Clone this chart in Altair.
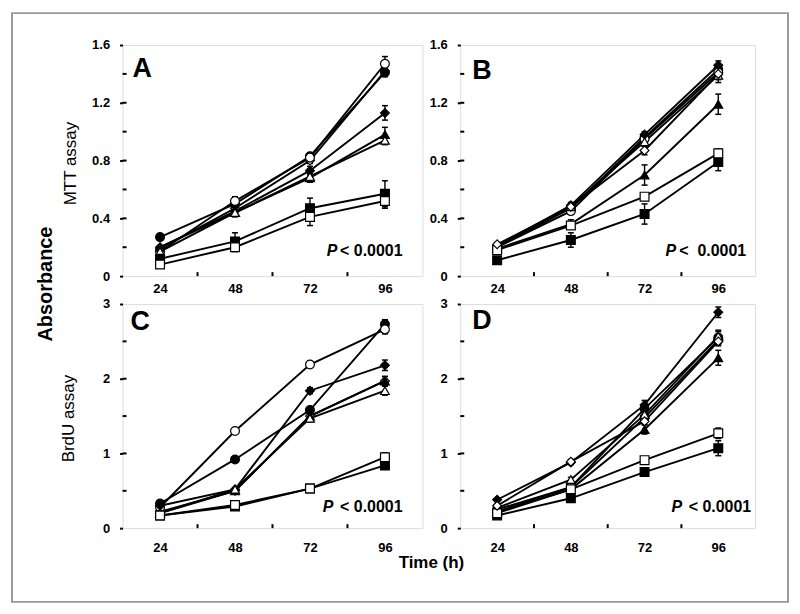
import altair as alt
import pandas as pd

TIMES = [24, 48, 72, 96]
X_MINOR = [36, 60, 84]

# series: name -> (shape, fill)
SERIES = ["open diamond", "filled circle", "open circle", "filled diamond",
          "filled triangle", "open triangle", "filled square", "open square"]
SHAPE_OF = {"circle": "circle", "diamond": "diamond", "triangle": "triangle-up", "square": "square"}

# ---- Panel A (MTT) ----
A_MEAN = {
    "filled circle":   [0.27, 0.50, 0.83, 1.41],
    "open circle":     [0.17, 0.52, 0.82, 1.47],
    "open diamond":    [0.19, 0.47, 0.80, 1.42],
    "filled diamond":  [0.20, 0.45, 0.73, 1.13],
    "filled triangle": [0.20, 0.44, 0.68, 0.98],
    "open triangle":   [0.17, 0.44, 0.69, 0.94],
    "filled square":   [0.12, 0.24, 0.47, 0.57],
    "open square":     [0.08, 0.20, 0.41, 0.52],
}
A_ERR = {
    "filled circle":   [0.01, 0.02, 0.02, 0.03],
    "open circle":     [0.01, 0.03, 0.02, 0.05],
    "open diamond":    [0.01, 0.02, 0.02, 0.03],
    "filled diamond":  [0.01, 0.02, 0.03, 0.05],
    "filled triangle": [0.01, 0.03, 0.03, 0.05],
    "open triangle":   [0.01, 0.02, 0.02, 0.03],
    "filled square":   [0.02, 0.06, 0.07, 0.09],
    "open square":     [0.01, 0.03, 0.06, 0.05],
}
# ---- Panel B (MTT) ----
B_MEAN = {
    "filled circle":   [0.20, 0.47, 0.96, 1.43],
    "open circle":     [0.20, 0.45, 0.95, 1.41],
    "filled diamond":  [0.21, 0.49, 0.98, 1.46],
    "open diamond":    [0.22, 0.48, 0.87, 1.40],
    "filled triangle": [0.19, 0.36, 0.70, 1.19],
    "open triangle":   [0.21, 0.48, 0.93, 1.39],
    "filled square":   [0.11, 0.25, 0.43, 0.79],
    "open square":     [0.18, 0.35, 0.55, 0.85],
}
B_ERR = {
    "filled circle":   [0.01, 0.02, 0.02, 0.03],
    "open circle":     [0.01, 0.02, 0.02, 0.03],
    "filled diamond":  [0.01, 0.02, 0.02, 0.03],
    "open diamond":    [0.01, 0.02, 0.03, 0.04],
    "filled triangle": [0.01, 0.03, 0.07, 0.07],
    "open triangle":   [0.01, 0.02, 0.03, 0.05],
    "filled square":   [0.02, 0.05, 0.07, 0.06],
    "open square":     [0.01, 0.02, 0.02, 0.03],
}
# ---- Panel C (BrdU) ----
C_MEAN = {
    "filled circle":   [0.33, 0.92, 1.58, 2.73],
    "open circle":     [0.28, 1.30, 2.19, 2.66],
    "filled diamond":  [0.30, 0.52, 1.84, 2.18],
    "open diamond":    [0.22, 0.50, 1.50, 1.97],
    "filled triangle": [0.20, 0.50, 1.50, 1.97],
    "open triangle":   [0.20, 0.52, 1.47, 1.84],
    "filled square":   [0.17, 0.29, 0.53, 0.84],
    "open square":     [0.17, 0.31, 0.53, 0.95],
}
C_ERR = {
    "filled circle":   [0.02, 0.02, 0.04, 0.06],
    "open circle":     [0.02, 0.02, 0.04, 0.06],
    "filled diamond":  [0.02, 0.02, 0.04, 0.07],
    "open diamond":    [0.02, 0.02, 0.04, 0.06],
    "filled triangle": [0.02, 0.02, 0.04, 0.06],
    "open triangle":   [0.02, 0.02, 0.05, 0.06],
    "filled square":   [0.02, 0.02, 0.02, 0.05],
    "open square":     [0.02, 0.02, 0.02, 0.06],
}
# ---- Panel D (BrdU) ----
D_MEAN = {
    "filled circle":   [0.25, 0.55, 1.60, 2.55],
    "open circle":     [0.22, 0.55, 1.48, 2.52],
    "filled diamond":  [0.38, 0.88, 1.65, 2.89],
    "open diamond":    [0.30, 0.89, 1.43, 2.50],
    "filled triangle": [0.22, 0.52, 1.32, 2.28],
    "open triangle":   [0.27, 0.65, 1.52, 2.57],
    "filled square":   [0.17, 0.40, 0.75, 1.07],
    "open square":     [0.20, 0.52, 0.91, 1.27],
}
D_ERR = {
    "filled circle":   [0.02, 0.02, 0.05, 0.08],
    "open circle":     [0.02, 0.02, 0.04, 0.06],
    "filled diamond":  [0.02, 0.03, 0.06, 0.07],
    "open diamond":    [0.02, 0.03, 0.04, 0.06],
    "filled triangle": [0.02, 0.02, 0.06, 0.10],
    "open triangle":   [0.02, 0.03, 0.05, 0.08],
    "filled square":   [0.02, 0.03, 0.04, 0.10],
    "open square":     [0.02, 0.02, 0.04, 0.07],
}

MTT_MAJOR = [0, 0.4, 0.8, 1.2, 1.6]
MTT_INNER = [0.2, 0.4, 0.6, 0.8, 1.0, 1.2, 1.4]
BRDU_MAJOR = [0, 1, 2, 3]
BRDU_INNER = [0.5, 1.0, 1.5, 2.0, 2.5]

FONT = "Liberation Sans"


def make_df(means, errs, top):
    rows = []
    for s in SERIES:
        fill_kind, shape_kind = s.split(" ")
        rank = SERIES.index(s) + (20 if s in top else 0)
        for t, m, e in zip(TIMES, means[s], errs[s]):
            rows.append({"series": s, "time": t, "mean": m, "lo": m - e, "hi": m + e,
                         "shape": SHAPE_OF[shape_kind],
                         "fillc": "black" if fill_kind == "filled" else "white",
                         "rank": rank})
    return pd.DataFrame(rows).sort_values("rank").reset_index(drop=True)


def one():
    return pd.DataFrame({"k": [0]})


def panel(means, errs, ymax, major, inner, width, height, xlabpad, letter, letter_xy,
          p_x, rest_txt, rest_x, p_y, top=(), extra=None):
    df = make_df(means, errs, top)
    xs = alt.Scale(domain=[12, 108], nice=False, zero=False)
    ys = alt.Scale(domain=[0, ymax], nice=False, zero=True)
    xaxis = alt.Axis(values=TIMES, ticks=False, tickSize=0, domain=False, grid=False,
                     labelPadding=xlabpad, title=None, labelFont=FONT, labelFontSize=13,
                     labelFontWeight="bold", labelColor="black", labelFlush=False)
    yaxis = alt.Axis(values=major, ticks=True, tickSize=3, tickWidth=2, tickColor="black",
                     domain=False, grid=False, labelPadding=10, title=None,
                     labelFont=FONT, labelFontSize=13, labelFontWeight="bold",
                     labelColor="black", labelFlush=False,
                     labelExpr="datum.value == 0 ? '0' : format(datum.value, '%s')" % (".1f" if ymax < 2 else "d"))

    def X(f):
        return alt.X(f, scale=xs, axis=xaxis)

    def Y(f):
        return alt.Y(f, scale=ys, axis=yaxis)

    base = alt.Chart(df)
    lines = base.mark_line(color="black", strokeWidth=1.9).encode(
        x=X("time:Q"), y=Y("mean:Q"), detail="series:N", order="time:Q")
    rules = base.mark_rule(color="black", strokeWidth=1.4).encode(
        x=X("time:Q"), y=Y("lo:Q"), y2="hi:Q")
    cap_hi = base.mark_tick(orient="horizontal", color="black", size=6, thickness=1.5, opacity=1).encode(
        x=X("time:Q"), y=Y("hi:Q"))
    cap_lo = base.mark_tick(orient="horizontal", color="black", size=6, thickness=1.5, opacity=1).encode(
        x=X("time:Q"), y=Y("lo:Q"))
    pts = base.mark_point(filled=True, size=78, stroke="black", strokeWidth=1.2, opacity=1).encode(
        x=X("time:Q"), y=Y("mean:Q"),
        shape=alt.Shape("shape:N", scale=None),
        fill=alt.Fill("fillc:N", scale=None),
        order="rank:Q")

    ytick = alt.Chart(pd.DataFrame({"v": inner})).mark_rule(color="black", strokeWidth=2).encode(
        y=Y("v:Q"), x=alt.value(0), x2=alt.value(4))
    xtick = alt.Chart(pd.DataFrame({"v": X_MINOR})).mark_rule(color="black", strokeWidth=2).encode(
        x=X("v:Q"), y=alt.value(height), y2=alt.value(height - 4))

    let = alt.Chart(one()).mark_text(text=letter, font=FONT, fontSize=27, fontWeight="bold",
                                     align="left", baseline="middle", color="black").encode(
        x=alt.value(letter_xy[0]), y=alt.value(letter_xy[1]))
    ptxt = alt.Chart(one()).mark_text(text="P", font=FONT, fontSize=16, fontWeight="bold",
                                      fontStyle="italic", align="left", baseline="middle",
                                      color="black").encode(x=alt.value(p_x), y=alt.value(p_y))
    rtxt = alt.Chart(one()).mark_text(text=rest_txt, font=FONT, fontSize=16, fontWeight="bold",
                                      align="right", baseline="middle", color="black").encode(
        x=alt.value(rest_x), y=alt.value(p_y))

    layers = [lines, rules, cap_hi, cap_lo, pts, ytick, xtick, let, ptxt, rtxt]
    if extra:
        layers += extra
    return alt.layer(*layers).properties(width=width, height=height)


def label(text, x, y, size, weight, angle=0):
    kw = dict(text=text, font=FONT, fontSize=size, fontWeight=weight, align="center",
              baseline="middle", color="black")
    if angle:
        kw["angle"] = angle
    return alt.Chart(one()).mark_text(**kw).encode(x=alt.value(x), y=alt.value(y))


frame = alt.Chart(one()).mark_rect(fillOpacity=0, stroke="#9a9a9a", strokeWidth=2).encode(
    x=alt.value(-111), x2=alt.value(668), y=alt.value(-32), y2=alt.value(559))

A = panel(A_MEAN, A_ERR, 1.6, MTT_MAJOR, MTT_INNER, 301, 232, 6, "A", (10, 24),
          205, "< 0.0001", 281, 207,
          extra=[frame,
                 label("Absorbance", -77, 240, 20, "bold", 270),
                 label("MTT assay", -52, 119, 17, "normal", 270)])
B = panel(B_MEAN, B_ERR, 1.6, MTT_MAJOR, MTT_INNER, 296, 232, 6, "B", (12, 26),
          206, "<\u00a0 0.0001", 287, 207, top=("open diamond",))
C = panel(C_MEAN, C_ERR, 3, BRDU_MAJOR, BRDU_INNER, 301, 225, 13, "C", (8, 18),
          201, "< 0.0001", 281, 204,
          extra=[label("BrdU assay", -54, 115, 17, "normal", 270),
                 label("Time (h)", 310, 260, 17, "bold")])
D = panel(D_MEAN, D_ERR, 3, BRDU_MAJOR, BRDU_INNER, 296, 225, 13, "D", (12, 17),
          212, "< 0.0001", 292, 204, top=("open diamond",))

chart = alt.concat(A, B, C, D, columns=2, spacing={"row": 28, "column": 38}, bounds="flush").properties(
    padding={"left": 2, "top": 2, "right": 2, "bottom": 2}
).configure_view(stroke="black", strokeWidth=2.5).configure(background="white")

chart.save("out.html", embed_options={"renderer": "svg", "actions": False})
